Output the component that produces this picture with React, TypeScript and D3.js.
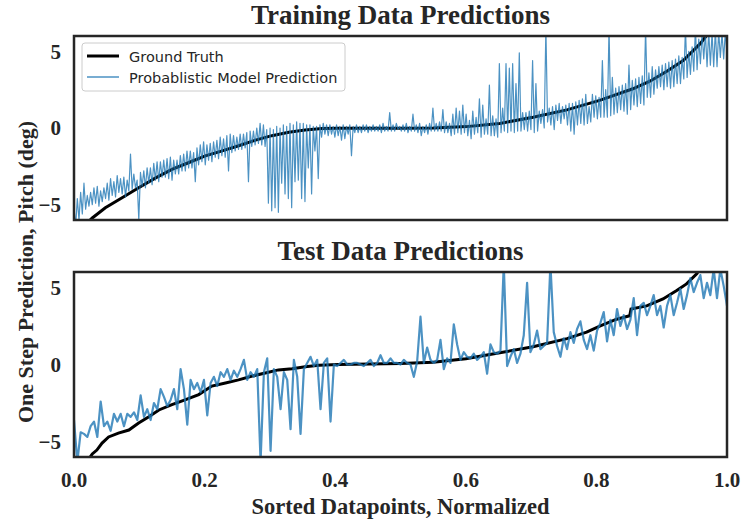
import { useMemo } from "react";
import * as d3 from "d3";

const WIDTH = 750;
const HEIGHT = 525;
const PLOT_LEFT = 74;
const PLOT_RIGHT = 727;

const SERIF = "'Liberation Serif', 'Times New Roman', serif";
const SANS = "'DejaVu Sans', sans-serif";
const TEXT = "#262626";
const BLUE = "#1f77b4";

const Y_TICKS = [-5, 0, 5];
const X_TICKS = [0, 0.2, 0.4, 0.6, 0.8, 1.0];

// ground truth pitch, sorted (normalized position, degrees)
const trainTruthX = [0, 0.028, 0.048, 0.073, 0.099, 0.125, 0.15, 0.176, 0.201, 0.227, 0.252, 0.278, 0.303, 0.329, 0.354, 0.38, 0.405, 0.45, 0.5, 0.55, 0.601, 0.652, 0.703, 0.755, 0.805, 0.856, 0.882, 0.908, 0.933, 0.959, 0.97, 1.0];
const trainTruthY = [-7.0, -5.87, -5.2, -4.56, -3.9, -3.25, -2.7, -2.25, -1.82, -1.49, -1.16, -0.79, -0.5, -0.28, -0.13, -0.04, -0.02, -0.01, -0.02, 0.0, 0.09, 0.3, 0.7, 1.18, 1.8, 2.56, 3.05, 3.7, 4.4, 5.5, 6.1, 8.0];

const testTruthX = [0, 0.02, 0.028, 0.035, 0.043, 0.053, 0.068, 0.084, 0.099, 0.114, 0.13, 0.15, 0.17, 0.191, 0.211, 0.232, 0.252, 0.273, 0.293, 0.313, 0.334, 0.354, 0.375, 0.405, 0.5, 0.55, 0.6, 0.652, 0.703, 0.755, 0.785, 0.806, 0.831, 0.851, 0.853, 0.877, 0.902, 0.923, 0.938, 0.954, 0.958, 1.0];
const testTruthY = [-7.5, -6.3, -5.8, -5.55, -5.1, -4.7, -4.45, -4.25, -3.8, -3.4, -2.95, -2.6, -2.3, -1.95, -1.4, -1.2, -1.0, -0.75, -0.55, -0.35, -0.28, -0.15, -0.05, 0.0, 0.07, 0.15, 0.37, 0.76, 1.15, 1.68, 2.1, 2.5, 2.94, 3.16, 3.6, 3.8, 4.25, 4.8, 5.23, 5.9, 6.2, 9.0];

// one step predictions, evenly spaced over the sorted datapoints
const trainPred = [
  -5.2, -6.4, -4.6, -6.0, -4.2, -5.6, -3.6, -5.3, -4.4, -5.1, -4.2, -5.0, -3.9, -4.9, -3.8, -5.1, -4.1, -4.8, -3.9, -4.6,
  -3.6, -4.7, -3.3, -4.4, -3.5, -4.5, -3.1, -4.2, -3.3, -4.3, -3.2, -4.5, -3.4, -4.1, -1.7, -4.0, -3.0, -3.9, -3.4, -6.0,
  -2.9, -3.8, -2.8, -3.9, -2.6, -3.6, -2.6, -3.7, -2.3, -3.4, -2.2, -3.5, -2.2, -3.2, -2.1, -3.2, -2.0, -3.3, -1.9, -3.4,
  -2.1, -3.0, -2.1, -3.0, -1.8, -2.8, -1.7, -2.8, -1.5, -2.6, -1.5, -2.6, -1.6, -3.5, -1.3, -2.4, -1.1, -2.2, -0.9, -2.4,
  -1.1, -2.1, -1.0, -2.2, -0.9, -1.9, -0.8, -2.0, -0.6, -1.8, -0.7, -1.9, -0.5, -2.8, -0.4, -1.6, -0.5, -1.5, -0.6, -1.4,
  -0.4, -1.4, -0.4, -1.3, -0.3, -3.5, -0.2, -1.2, -0.2, -1.1, 0.0, -1.0, 0.3, -1.1, 0.2, -1.2, -0.1, -4.9, 0.0, -5.4,
  -0.1, -5.2, 0.1, -5.5, 0.0, -3.6, 0.2, -4.3, 0.1, -4.6, 0.3, -5.2, 0.2, -3.5, 0.4, -3.4, 0.3, -4.6, 0.3, -4.8,
  0.2, -2.6, 0.2, -4.3, 0.1, -1.5, 0.1, -3.3, 0.2, -0.6, 0.3, -0.4, 0.2, -0.5, 0.2, -0.4, 0.1, -0.6, 0.2, -0.5,
  0.1, -0.8, 0.2, -0.7, 0.1, -0.4, 0.2, -1.8, 0.1, -0.3, 0.2, -0.3, 0.1, -0.3, 0.2, -0.2, 0.2, -0.3, 0.1, -0.2,
  0.2, -0.2, 0.1, -0.2, 0.2, -0.3, 0.3, -0.2, 0.1, -0.2, 1.0, -0.2, 0.2, -0.2, 0.3, -0.1, 0.1, -0.2,
  0.2, -0.2, 0.3, -0.3, 0.1, -0.2, 0.9, -0.2, 0.2, -0.3, 0.3, -0.5, 0.1, -0.3, 0.2, -0.4, 0.3, -0.2, 1.3, -0.2,
  0.3, -0.2, 0.4, -0.2, 1.2, -0.3, 0.4, -0.3, 0.3, -0.5, 0.9, -0.4, 1.3, -0.3, 1.1, -0.4, 1.5, -0.3, 0.9, -0.5,
  0.5, -0.7, 1.1, -0.4, 0.7, -0.3, 1.9, -0.6, 1.5, -0.4, 0.6, -0.4, 2.8, -0.5, 0.8, -0.5, 0.6, -0.6, 4.2, -0.3,
  1.3, -0.2, 4.2, -0.3, 3.9, -0.2, 4.2, -0.3, 2.9, -0.2, 4.9, -0.2, 1.0, -0.1, 1.0, -0.2, 1.1, -0.1, 4.4, -0.3,
  2.9, -0.2, 1.1, 0.3, 1.2, 0.0, 6.5, 0.4, 1.3, 0.2, 1.4, -0.1, 1.5, 0.5, 1.6, 0.3, 1.4, 0.6, 1.5, 0.2,
  1.6, -0.2, 1.6, -0.4, 1.7, 0.2, 1.8, 0.3, 1.9, 0.2, 2.2, 0.3, 1.4, 0.4, 2.2, 0.7, 2.1, 0.6, 2.0, 0.7,
  4.4, 0.7, 2.5, 0.7, 6.5, 0.8, 3.3, 0.9, 2.6, 1.0, 2.7, 1.2, 2.8, 1.1, 2.9, 0.9, 4.1, 1.2, 3.1, 1.5,
  3.2, 1.4, 3.3, 1.6, 3.4, 1.5, 6.5, 2.0, 3.6, 2.0, 4.0, 2.2, 3.8, 2.6, 4.0, 2.7, 4.1, 2.5, 4.2, 2.7,
  4.3, 2.6, 4.4, 2.7, 4.5, 2.9, 4.7, 2.9, 4.6, 3.2, 6.5, 3.3, 5.0, 3.5, 5.3, 3.7, 6.5, 3.8, 5.8, 4.2,
  6.2, 4.5, 6.2, 4.0, 6.3, 4.1, 6.2, 4.0, 6.4, 4.0, 6.3, 4.6, 6.2, 4.5, 6.3, 4.8,
];

const testPred = [
  -3.6, -6.3, -4.4, -4.5, -4.7, -4.0, -3.7, -4.7, -2.4, -4.0,
  -3.7, -4.3, -3.2, -3.7, -3.2, -4.0, -3.2, -3.4, -3.1, -3.6,
  -2.0, -3.4, -2.9, -3.6, -2.5, -2.9, -1.6, -2.1, -2.7, -2.3,
  -1.6, -2.9, -0.3, -1.6, -3.9, -1.0, -1.6, -1.2, -1.8, -1.0,
  -3.3, -1.2, -0.8, -1.4, -0.5, -0.8, -0.3, -1.0, -0.4, -0.8,
  -0.3, 0.3, -1.0, -0.5, -0.8, -0.3, -6.3, -0.5, 0.4, -5.6,
  -0.3, -0.8, -2.9, -0.5, -1.0, -4.2, 0.3, -0.8, -4.5, -0.3,
  0.1, 0.5, -0.1, 0.3, -2.9, 0.1, 0.4, -3.7, 0.0, -0.1,
  0.1, 0.3, 0.0, 0.0, 0.1, 0.1, 0.0, -0.1, 0.1, 0.3,
  -0.1, 0.1, 0.6, 0.1, 0.1, 0.4, 0.1, 0.1, 0.0,
  0.3, 0.1, 0.0, -0.8, 0.2, 3.1, 0.1, 1.1, 0.3, 0.1,
  0.3, 1.6, -0.3, 0.4, 0.1, 2.6, 1.3, 0.3, 0.8, 0.5,
  0.4, 0.7, 0.3, 0.5, 0.8, -0.6, 1.3, 0.8, 0.7, 0.9,
  6.5, -0.1, 0.5, 1.0, 0.1, 0.7, 1.9, 5.3, 0.8, 1.3,
  2.2, 1.0, 1.2, 1.4, 6.5, 2.1, 1.2, 0.5, 1.7, 1.0,
  2.1, 1.4, 2.3, 2.8, 1.6, 1.0, 1.9, 0.9, 2.2, 2.7,
  3.4, 1.5, 2.9, 1.9, 3.6, 2.5, 3.2, 2.3, 2.9, 4.3,
  1.9, 3.8, 4.0, 3.2, 3.8, 4.5, 3.2, 3.8, 2.4, 3.8,
  4.5, 3.2, 4.0, 4.9, 3.6, 4.5, 5.6, 4.7, 5.3, 5.8,
  4.3, 5.3, 4.5, 6.2, 4.3, 6.2, 5.1, 3.8,
];

type PanelProps = {
  id: string;
  title: string;
  titleY: number;
  top: number;
  bottom: number;
  truthX: number[];
  truthY: number[];
  pred: number[];
  predWidth: number;
  legend?: boolean;
  xTicks?: boolean;
};

const Panel = ({ id, title, titleY, top, bottom, truthX, truthY, pred, predWidth, legend, xTicks }: PanelProps) => {
  const xScale = useMemo(() => d3.scaleLinear().domain([0, 1]).range([PLOT_LEFT, PLOT_RIGHT]), []);
  const yScale = useMemo(() => d3.scaleLinear().domain([-6, 6]).range([bottom, top]), [top, bottom]);

  const line = d3
    .line<[number, number]>()
    .x((d) => xScale(d[0]))
    .y((d) => yScale(d[1]));

  const truthPath = line(truthX.map((x, i) => [x, truthY[i]]));
  const predPath = line(pred.map((v, i) => [i / (pred.length - 1), v]));
  const fmtY = d3.format("d");
  const fmtX = d3.format(".1f");

  return (
    <g>
      <defs>
        <clipPath id={`clip-${id}`}>
          <rect x={PLOT_LEFT} y={top} width={PLOT_RIGHT - PLOT_LEFT} height={bottom - top} />
        </clipPath>
      </defs>
      <text x={(PLOT_LEFT + PLOT_RIGHT) / 2} y={titleY} textAnchor="middle" fontFamily={SERIF}
        fontWeight="bold" fontSize={27} fill={TEXT}>
        {title}
      </text>
      <g clipPath={`url(#clip-${id})`}>
        <path d={truthPath ?? ""} fill="none" stroke="black" strokeWidth={3} />
        <path d={predPath ?? ""} fill="none" stroke={BLUE} strokeOpacity={0.8} strokeWidth={predWidth}
          strokeLinejoin="round" />
      </g>
      <rect x={PLOT_LEFT} y={top} width={PLOT_RIGHT - PLOT_LEFT} height={bottom - top}
        fill="none" stroke={TEXT} strokeWidth={2.5} />
      {Y_TICKS.map((t) => (
        <text key={t} x={PLOT_LEFT - 13} y={yScale(t)} dy="0.35em" textAnchor="end"
          fontFamily={SERIF} fontWeight="bold" fontSize={21} fill={TEXT}>
          {fmtY(t)}
        </text>
      ))}
      {xTicks && X_TICKS.map((t) => (
        <text key={t} x={xScale(t)} y={bottom + 30} textAnchor="middle"
          fontFamily={SERIF} fontWeight="bold" fontSize={21} fill={TEXT}>
          {fmtX(t)}
        </text>
      ))}
      {legend && (
        <g>
          <rect x={82} y={43} width={263} height={48} rx={3} fill="white" fillOpacity={0.8} stroke="#cccccc" />
          <line x1={87} x2={119} y1={56} y2={56} stroke="black" strokeWidth={3} />
          <line x1={87} x2={119} y1={77} y2={77} stroke={BLUE} strokeOpacity={0.8} strokeWidth={1.5} />
          <text x={129} y={61.5} fontFamily={SANS} fontSize={14.5} fill={TEXT}>Ground Truth</text>
          <text x={129} y={82.5} fontFamily={SANS} fontSize={14.5} fill={TEXT}>Probablistic Model Prediction</text>
        </g>
      )}
    </g>
  );
};

export default function App() {
  return (
    <div style={{ position: "absolute", left: 0, top: 0 }}>
      <svg width={WIDTH} height={HEIGHT} style={{ display: "block", background: "white" }}>
        <Panel id="train" title="Training Data Predictions" titleY={24} top={36} bottom={220}
          truthX={trainTruthX} truthY={trainTruthY} pred={trainPred} predWidth={1.2} legend />
        <Panel id="test" title="Test Data Predictions" titleY={260} top={272} bottom={457}
          truthX={testTruthX} truthY={testTruthY} pred={testPred} predWidth={2.2} xTicks />
        <text transform="translate(33, 272) rotate(-90)" textAnchor="middle" fontFamily={SERIF}
          fontWeight="bold" fontSize={22} fill={TEXT}>
          One Step Prediction, Pitch (deg)
        </text>
        <text x={(PLOT_LEFT + PLOT_RIGHT) / 2} y={514} textAnchor="middle" fontFamily={SERIF}
          fontWeight="bold" fontSize={22.5} fill={TEXT}>
          Sorted Datapoints, Normalized
        </text>
      </svg>
    </div>
  );
}
